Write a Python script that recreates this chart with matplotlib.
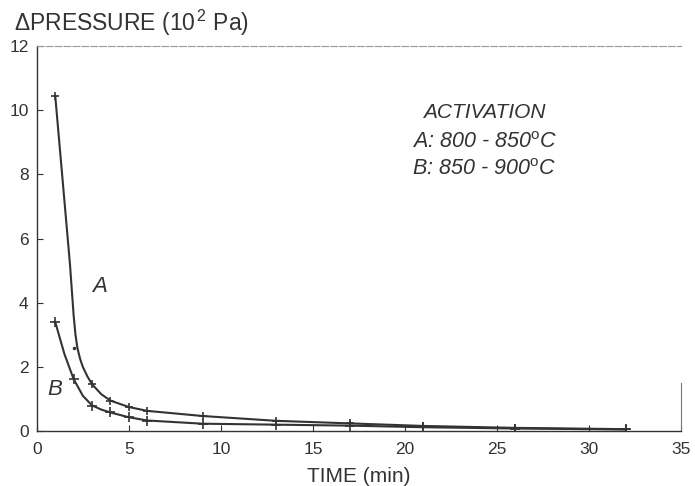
import matplotlib.pyplot as plt

plt.rcParams['font.family'] = ['Liberation Sans', 'DejaVu Sans']
plt.rcParams['mathtext.fontset'] = 'custom'
plt.rcParams['mathtext.rm'] = 'Liberation Sans'
plt.rcParams['mathtext.it'] = 'Liberation Sans:italic'
plt.rcParams['mathtext.bf'] = 'Liberation Sans:bold'

# measured points
time_a = [1, 3, 4, 5, 6, 9, 13, 17, 21, 26, 32]
press_a = [10.45, 1.46, 0.93, 0.75, 0.62, 0.47, 0.31, 0.24, 0.16, 0.10, 0.06]
outlier_t = [2]
outlier_p = [2.6]

time_b = [1, 2, 3, 4, 5, 6, 9, 13, 17, 21, 26, 32]
press_b = [3.4, 1.62, 0.78, 0.58, 0.43, 0.32, 0.22, 0.20, 0.17, 0.12, 0.08, 0.05]

# hand-drawn fitted curves
curve_a_t = [1, 1.8, 2.0, 2.1, 2.2, 2.35, 2.5, 2.75, 3, 3.5, 4, 5, 6, 9, 13, 17, 21, 26, 32]
curve_a_p = [10.45, 5.2, 3.6, 3.0, 2.6, 2.25, 2.0, 1.7, 1.46, 1.15, 0.95, 0.75, 0.63, 0.47,
             0.32, 0.24, 0.16, 0.10, 0.06]
curve_b_t = [1, 1.5, 2, 2.5, 3, 3.5, 4, 5, 6, 9, 13, 17, 21, 26, 32]
curve_b_p = [3.4, 2.4, 1.62, 1.1, 0.8, 0.67, 0.58, 0.43, 0.33, 0.23, 0.20, 0.17, 0.12, 0.08, 0.05]

ink = '#333333'

fig = plt.figure(figsize=(6.95, 4.86), dpi=100)
ax = fig.add_axes([0.053, 0.113, 0.927, 0.792])

ax.plot(curve_a_t, curve_a_p, color=ink, lw=1.5)
ax.plot(curve_b_t, curve_b_p, color=ink, lw=1.5)
ax.plot(time_a, press_a, '+', color=ink, ms=6, mew=1.2)
ax.plot(time_b, press_b, '+', color=ink, ms=7, mew=1.2)
ax.plot(outlier_t, outlier_p, '.', color=ink, ms=3)

ax.set_xlim(0, 35)
ax.set_ylim(0, 12)
ax.set_xticks(range(0, 36, 5))
ax.set_yticks(range(0, 13, 2))
ax.tick_params(direction='in', length=4, color=ink, labelcolor=ink, labelsize=12.5)
ax.tick_params(axis='x', pad=8)
ax.tick_params(axis='y', pad=6)

for s in ['left', 'bottom']:
    ax.spines[s].set_color(ink)
    ax.spines[s].set_linewidth(1.0)
ax.spines['top'].set_color('#9a9a9a')
ax.spines['top'].set_linestyle((0, (6, 2)))
ax.spines['top'].set_linewidth(0.8)
ax.spines['bottom'].set_linestyle((0, (8, 1)))
# only the lower end of the right frame survives in the scan
ax.spines['right'].set_bounds(0, 1.5)
ax.spines['right'].set_color('#777777')
ax.spines['right'].set_linewidth(0.8)

fig.text(0.02, 0.953, r'$\Delta$PRESSURE (10$^{\,2}$ Pa)', fontsize=16.5, color=ink, va='center')
ax.set_xlabel('TIME (min)', fontsize=15, color=ink, labelpad=7)

ax.text(24.3, 9.94, 'ACTIVATION', style='italic', fontsize=15, color=ink, ha='center', va='center')
ax.text(24.3, 9.0, r'A: 800 - 850$^{\mathrm{o}}$C', style='italic', fontsize=15.5, color=ink,
        ha='center', va='center')
ax.text(24.3, 8.15, r'B: 850 - 900$^{\mathrm{o}}$C', style='italic', fontsize=15.5, color=ink,
        ha='center', va='center')
ax.text(3.4, 4.5, 'A', style='italic', fontsize=16, color=ink, ha='center', va='center')
ax.text(1.0, 1.3, 'B', style='italic', fontsize=16, color=ink, ha='center', va='center')

fig.savefig('out.png', dpi=100)
